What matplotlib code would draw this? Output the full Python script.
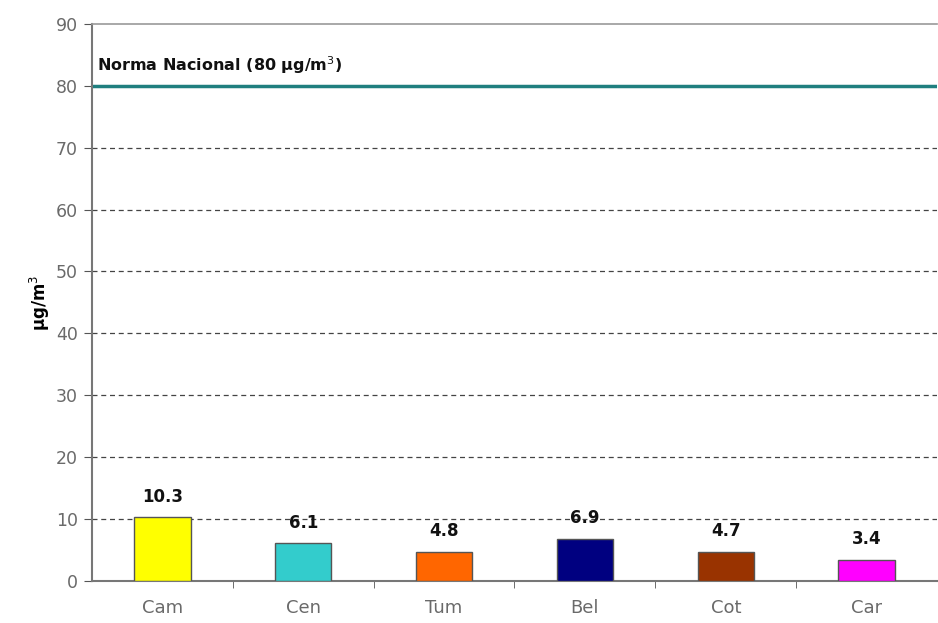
import matplotlib.pyplot as plt
import numpy as np

plt.rcParams['font.family'] = ['DejaVu Sans']

estaciones = ['Cam', 'Cen', 'Tum', 'Bel', 'Cot', 'Car']
valores = [10.3, 6.1, 4.8, 6.9, 4.7, 3.4]
colores = ['#FFFF00', '#33CCCC', '#FF6600', '#000080', '#993300', '#FF00FF']
norma = 80

fig = plt.figure(figsize=(9.38, 6.23), dpi=100)
ax = fig.add_axes([0.098, 0.067, 0.901, 0.895])

x = np.arange(len(estaciones))
ax.bar(x, valores, width=0.4, color=colores, edgecolor='#555555', linewidth=1, zorder=3)

for xi, v in zip(x, valores):
    ax.text(xi, v + 1.9, f'{v:.1f}', ha='center', va='bottom', fontsize=12,
            fontweight='bold', color='#111111', zorder=4)

# líneas de referencia punteadas
for yv in range(10, 80, 10):
    ax.axhline(yv, color='#444444', linestyle=(0, (4, 3)), linewidth=0.9, zorder=1)

ax.axhline(norma, color='#1f7f7f', linewidth=2.5, zorder=2)
ax.text(0.006, norma + 1.6, 'Norma Nacional (80 µg/m$^3$)', transform=ax.get_yaxis_transform(),
        fontsize=11.5, fontweight='bold', color='#111111', va='bottom', ha='left')

ax.set_xlim(-0.5, len(estaciones) - 0.5)
ax.set_ylim(0, 90)
ax.set_yticks(range(0, 91, 10))
ax.set_xticks(x)
ax.set_xticklabels(estaciones)
ax.set_xticks(np.arange(0.5, len(estaciones) - 0.5, 1), minor=True)

ax.tick_params(axis='x', which='major', length=0, pad=13, labelsize=13, labelcolor='#6a6a6a')
ax.tick_params(axis='x', which='minor', length=5, direction='out', color='#555555')
ax.tick_params(axis='y', length=6, direction='out', color='#555555', labelsize=12.5,
               labelcolor='#6a6a6a', pad=4)

ax.set_ylabel('µg/m$^3$', fontsize=12, fontweight='bold', labelpad=3)

for s in ['left', 'bottom']:
    ax.spines[s].set_color('#777777')
    ax.spines[s].set_linewidth(1.5)
ax.spines['top'].set_color('#999999')
ax.spines['top'].set_linewidth(1.2)
ax.spines['right'].set_visible(False)

fig.savefig('out.png', dpi=100)
